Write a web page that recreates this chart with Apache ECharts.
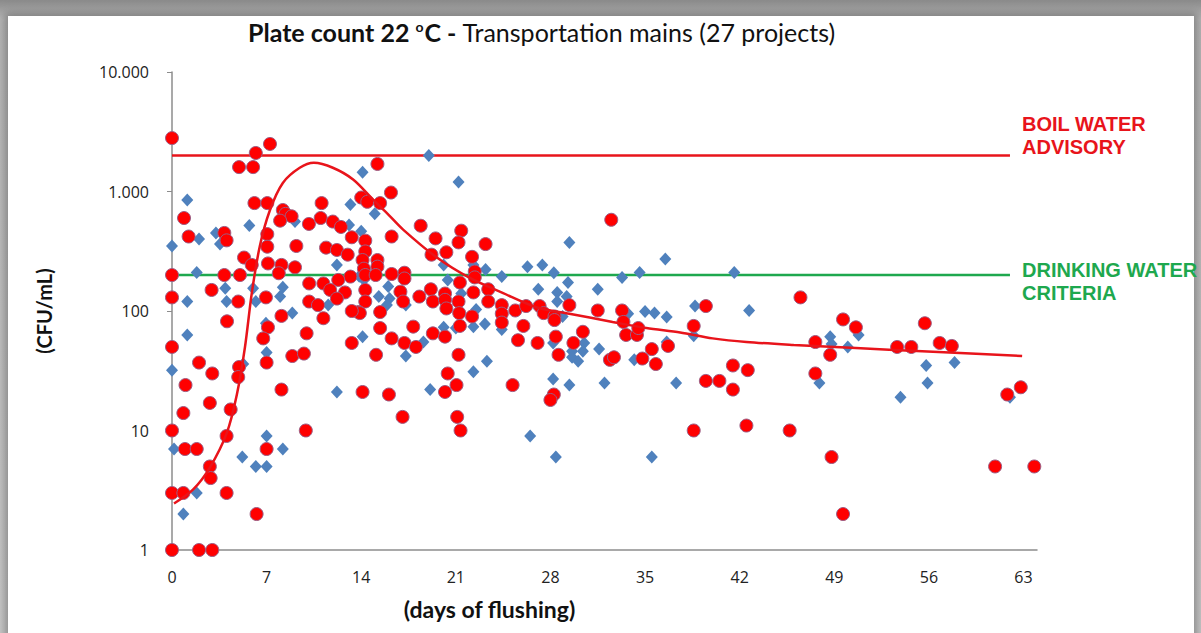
<!DOCTYPE html>
<html>
<head>
<meta charset="utf-8">
<script src="https://cdn.jsdelivr.net/npm/echarts@6/dist/echarts.min.js"></script>
<style>
html,body{margin:0;padding:0;width:1201px;height:633px;overflow:hidden;}
body{background:linear-gradient(#8a8a8a,#b5b5b5 3%,#c8c8c8);position:relative;}
#panel{position:absolute;left:8px;top:16px;width:1186px;height:640px;background:#fff;box-shadow:0 0 8px 3px rgba(90,90,90,0.55);}
#chart{position:absolute;left:0;top:0;width:1201px;height:633px;}
</style>
</head>
<body>
<div id="panel"></div>
<div id="chart"></div>
<script>
// x ticks (days of flushing) and y ticks (CFU/mL, log)
const xTicks = [0, 7, 14, 21, 28, 35, 42, 49, 56, 63];
const yTicks = [1, 10, 100, 1000, 10000];
const boilLimit = 2000;
const drinkLimit = 200;
const limitSpan = [0, 62];

// blue diamonds [day, CFU/mL]
const bluePoints = [
 [1.13,850],[5.72,520],[0,350],[2.0,400],[3.25,450],[3.55,363],[9.1,560],[1.83,210],[3.94,155],[6.0,155],
 [8.2,158],[8.0,132],[1.13,120],[4.04,120],[6.2,120],[8.9,96],[6.95,79],[1.13,63],
 [0,32],[5.27,36],[7.0,45],[7.0,9],[0.15,7],[8.2,7],[5.2,6],[6.2,5],[7.0,5],[1.83,3],[0.84,2],
 [19.0,2000],[14.1,1450],[13.2,780],[15.0,650],[13.1,525],[14.0,465],[12.2,243],[13.85,195],[14.2,182],
 [16.0,160],[15.3,132],[16.1,127],[15.9,112],[17.3,112],[11.56,112],[14.1,61],
 [17.3,42],[18.6,55],[12.2,21],[19.1,22],
 [21.2,1200],[29.4,375],[20.1,243],[23.2,222],[22.3,243],[26.3,235],[27.4,243],[28.25,209],[24.4,194],
 [20.4,182],[29.3,173],[21.4,140],[27.1,152],[28.5,143],[29.2,132],[28.5,120],[22.5,103],[28.9,90],
 [20.1,73],[23.15,78],[22.3,74],[24.4,70],[21.0,72],
 [22.3,31],[23.3,38],[28.2,27],[29.4,24],[29.6,46],[29.6,41],[30.05,38],[26.5,9],[28.4,6],[28.2,54],
 [31.5,152],[33.3,191],[34.6,210],[36.5,272],[41.6,210],[35.0,99],[35.7,96],[36.6,89],[33.75,95],
 [38.7,110],[42.7,101],[38.6,62],[36.6,55],[30.5,54],[30.4,46],[31.6,48],[34.2,39],[32.0,25],
 [37.3,25],[35.5,6],
 [48.7,61],[48.8,53],[50.0,50],[50.8,63],[47.9,25],[53.9,19],[55.8,35],[55.9,25],[57.9,37],[62.0,19]
];

// red circles [day, CFU/mL]
const redPoints = [
 [0,2800],[7.25,2500],[6.2,2100],[4.96,1600],[6.0,1600],
 [0.89,600],[6.1,800],[7.05,800],[8.2,700],[8.4,650],[8.85,620],[8.0,570],
 [1.23,420],[3.87,450],[4.04,390],[7.05,440],[7.05,345],[9.2,350],
 [5.33,280],[5.9,243],[7.1,250],[8.1,243],[7.9,207],[9.1,232],
 [0,200],[3.87,200],[5.03,200],[2.93,150],[0,130],[4.9,120],[6.95,130],
 [8.1,91],[4.07,82],[7.1,73],[6.75,59],
 [0,50],[2.0,37],[2.98,30],[1.0,24],[2.8,17],[4.96,34],[4.9,28],[4.34,15],[0.84,14],[7.0,37],[8.9,42],[8.1,22],
 [0,10],[4.04,9],[0.96,7],[1.83,7],[7.0,7],[2.8,5],[2.86,4],[0,3],[0.84,3],[4.04,3],[6.26,2],[0,1],[2.0,1],[2.98,1],
 [15.2,1700],[14.0,890],[14.45,820],[15.4,800],[16.2,980],[11.07,800],
 [10.13,535],[11.0,600],[11.9,560],[12.5,505],[13.3,414],[14.3,388],[16.25,420],[18.4,517],
 [11.4,339],[12.2,324],[13.0,296],[14.3,315],[14.1,267],[15.2,267],[15.2,235],[14.2,226],
 [13.2,194],[14.3,200],[15.07,200],[16.25,204],[17.2,209],[17.2,187],
 [10.15,170],[11.2,170],[12.3,182],[11.7,150],[12.8,143],[14.3,150],[12.2,127],[10.15,120],[10.8,112],[14.3,120],
 [16.9,145],[17.1,120],[18.3,132],[11.2,87],[13.8,98],[15.4,98],[13.9,96],[13.3,100],[15.4,72],[17.85,74],[9.96,65],
 [9.76,44],[13.3,54],[16.25,59],[17.2,54],[18.05,50],[15.1,43],[14.1,21],[16.05,20],[17.06,13],[9.9,10],
 [21.4,470],[19.5,405],[21.2,375],[23.2,363],[20.3,310],[19.2,296],[22.2,284],[22.4,214],[22.4,191],[21.3,173],
 [19.15,152],[23.4,152],[20.2,140],[22.3,143],[23.4,120],[19.3,120],[20.2,124],[21.2,120],[20.3,105],[21.25,96],
 [22.2,90],[24.4,112],[24.4,95],[25.4,101],[26.2,110],[27.2,110],[27.5,96],[28.3,90],[29.4,112],[21.3,75],
 [24.4,80],[26.0,75],[28.3,84],[19.3,65],[20.2,61],
 [21.2,43],[20.4,30],[21.05,24],[20.2,21],[21.1,13],[21.35,10],[25.2,24],[25.6,57],[27.05,54],[28.4,61],
 [28.6,43],[29.7,54],[28.25,20],[28.0,18],
 [32.5,580],[31.5,101],[33.3,101],[33.4,81],[30.4,67],[33.6,63],[34.4,63],[34.5,72],[32.4,39],[32.7,41],
 [34.8,40],[35.5,48],[35.8,36],[36.7,51],[38.6,75],[39.5,110],[39.5,26],[40.5,26],[41.5,35],[42.6,32],
 [41.5,22],[38.6,10],[42.5,11],[45.7,10],[46.5,130],
 [47.6,55],[47.6,30],[49.65,85],[50.6,73],[48.7,43],[48.8,6],[49.65,2],[53.65,50],[54.7,50],[55.7,79],
 [56.8,54],[57.7,51],[61.8,20],[62.8,23],[60.9,5],[63.8,5]
];

// fitted trend curve [day, CFU/mL]
const trendPoints = [
 [0.15,2.45],[1.55,3.2],[2.8,4.9],[4.05,9.5],[4.8,20],[5.4,50],[5.9,140],[6.5,350],[7.25,700],[8.2,1180],
 [9.45,1580],[10.5,1740],[11.9,1580],[13.4,1260],[14.9,850],[15.9,660],[17.1,480],[19.6,280],[22.0,190],
 [24.5,141],[27.0,107],[29.4,95],[32.6,81],[35.1,72],[37.6,66],[40.0,59],[42.5,55],[46.0,52],[50.6,49],
 [55.5,46],[62.9,42]
];

const boilLabel = ['BOIL WATER', 'ADVISORY'];
const drinkLabel = ['DRINKING WATER', 'CRITERIA'];

const chart = echarts.init(document.getElementById('chart'), null, {renderer: 'svg'});
const RED = '#e8141b', GREEN = '#1ea84e', BLUE = '#4f81bd';
const titleFont = 'Lato, "Open Sans", sans-serif';

function fmt(v){ return String(v).replace(/\B(?=(\d{3})+(?!\d))/g, '.'); }

chart.setOption({
  backgroundColor: 'transparent',
  animation: false,
  title: {
    text: '{b|Plate count 22 }{sup|o}{b|C - }{r|Transportation mains (27 projects)}',
    left: 243, top: 14,
    textStyle: {
      rich: {
        b: {fontFamily: titleFont, fontWeight: 'bold', fontSize: 25, color: '#111'},
        sup: {fontFamily: titleFont, fontWeight: 'bold', fontSize: 14, color: '#111', verticalAlign: 'top', padding: [0,1,10,0]},
        r: {fontFamily: titleFont, fontWeight: 'normal', fontSize: 25, color: '#111'}
      }
    }
  },
  grid: {left: 172, top: 72, width: 865, height: 478, containLabel: false},
  xAxis: {
    type: 'value', min: 0, max: 64, interval: 7,
    name: '(days of flushing)', nameLocation: 'middle', nameGap: 47,
    nameTextStyle: {fontFamily: titleFont, fontWeight: 'bold', fontSize: 23, color: '#111', padding: [0, 230, 0, 0]},
    axisLine: {lineStyle: {color: '#8c8c8c', width: 1.5}},
    axisTick: {show: false},
    splitLine: {show: false},
    axisLabel: {fontFamily: '"Open Sans", sans-serif', fontSize: 16, color: '#222', margin: 19,
      showMaxLabel: false, formatter: v => xTicks.includes(v) ? String(v) : ''}
  },
  yAxis: {
    type: 'log', logBase: 10, min: yTicks[0], max: yTicks[yTicks.length - 1],
    name: '(CFU/mL)', nameLocation: 'middle', nameGap: 118, nameRotate: 90,
    nameTextStyle: {fontFamily: titleFont, fontWeight: 'bold', fontSize: 20, color: '#111'},
    axisLine: {show: true, lineStyle: {color: '#8c8c8c', width: 1.5}},
    axisTick: {show: true, inside: false, length: 5, lineStyle: {color: '#8c8c8c'}},
    splitLine: {show: false},
    axisLabel: {fontFamily: '"Open Sans", sans-serif', fontSize: 16, color: '#222', margin: 23, formatter: fmt}
  },
  series: [
    {type: 'line', data: limitSpan.map(d => [d, boilLimit]), symbol: 'none', lineStyle: {color: RED, width: 2.5}, z: 1, silent: true},
    {type: 'line', data: limitSpan.map(d => [d, drinkLimit]), symbol: 'none', lineStyle: {color: GREEN, width: 2.5}, z: 1, silent: true},
    {type: 'scatter', data: bluePoints, symbol: 'diamond', symbolSize: [12, 13],
      itemStyle: {color: BLUE, opacity: 1}, z: 2},
    {type: 'scatter', data: redPoints, symbol: 'circle', symbolSize: 13,
      itemStyle: {color: '#ff0000', borderColor: '#9a5f86', borderWidth: 1, opacity: 1}, z: 3},
    {type: 'line', data: trendPoints, smooth: 0.3, symbol: 'none', lineStyle: {color: RED, width: 2.5}, z: 4}
  ],
  graphic: [
    {type: 'text', left: 1022, top: 112, style: {text: boilLabel.join('\n'), fill: RED, font: 'bold 20px "Liberation Sans", Arial, sans-serif', lineHeight: 23}},
    {type: 'text', left: 1022, top: 258, style: {text: drinkLabel.join('\n'), fill: GREEN, font: 'bold 20px "Liberation Sans", Arial, sans-serif', lineHeight: 23}}
  ]
});
</script>
</body>
</html>
